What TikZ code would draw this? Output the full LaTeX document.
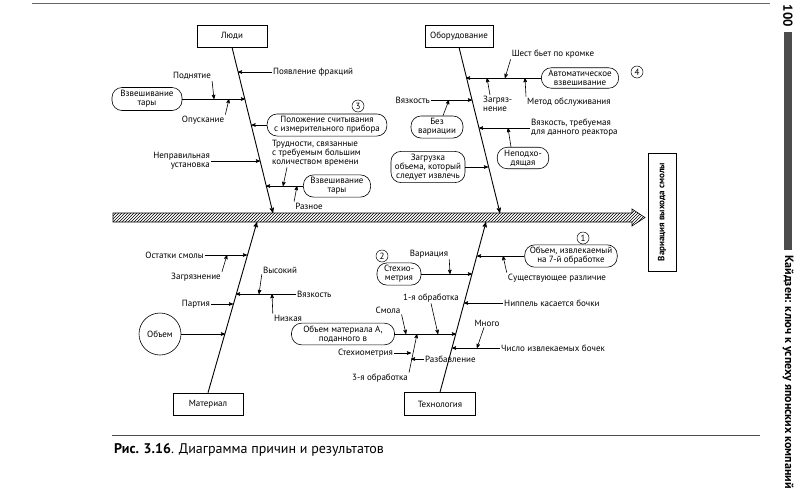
\documentclass[tikz,border=0pt]{standalone}
\usepackage{fontspec}
\setmainfont{PT Sans}
\usetikzlibrary{arrows,calc,patterns,positioning}

\begin{document}
\begin{tikzpicture}[x=1pt,y=-1pt,>=stealth',
every node/.style={font=\fontsize{9}{9}\selectfont,inner sep=1pt},
cat/.style={draw,line width=0.6pt,minimum width=70pt,minimum height=22pt},
pill/.style={draw,rounded corners=10pt,align=center,line width=0.6pt,inner xsep=7pt,inner ysep=2.5pt},
num/.style={draw,circle,inner sep=0.5pt,minimum size=12pt,line width=0.5pt},
bone/.style={line width=0.9pt,->},
twig/.style={line width=0.6pt,->}]
\useasboundingbox (0,0) rectangle (800,488);

% spine and result
\draw[line width=0.6pt,pattern=north east lines] (113,213) -- (632,213) -- (632,209)
    -- (645,217.5) -- (632,226) -- (632,222) -- (113,222) -- cycle;
\node[draw,line width=0.8pt,rotate=90,minimum width=118pt,minimum height=28pt,font=\bfseries\fontsize{9}{9}\selectfont] (res) at (662,212) {Вариация выхода смолы};

% categories
\node[cat] (lyudi) at (232,36) {Люди};
\node[cat,minimum width=68pt] (obor) at (459,36) {Оборудование};
\node[cat] (mat) at (208,404) {Материал};
\node[cat,minimum width=71pt,minimum height=23pt] (tech) at (440,404) {Технология};
\coordinate (lsp) at (273,213);
\coordinate (osp) at (500,213);
\coordinate (msp) at (257,222);
\coordinate (tsp) at (486,222);
\draw[bone] (lyudi.south) -- (lsp);
\draw[bone] (obor.south) -- (osp);
\draw[bone] (mat.north) -- (msp);
\draw[bone] (tech.north) -- (tsp);

% Люди
\node[anchor=west] (fr) at (272,72) {Появление фракций};
\coordinate (l1) at (238,72);
\draw[twig] (fr.west) -- (l1);
\node[pill,minimum width=70pt,minimum height=23pt] (tara1) at (147,99) {Взвешивание\\тары};
\coordinate (l2) at (245,99);
\draw[twig] (tara1.east) -- (l2);
\node (podn) at (192,76) {Поднятие};
\coordinate (l2a) at (214,99);
\draw[twig] (podn.south east) -- (l2a);
\node (opusk) at (203,120) {Опускание};
\coordinate (l2b) at (229,99);
\draw[twig] (opusk.north east) -- (l2b);
\node[pill] (polozh) at (327,125) {Положение считывания\\с измерительного прибора};
\node[num] (n3) at (358,106) {3};
\coordinate (l3) at (251.5,125);
\draw[twig] (polozh.west) -- (l3);
\node[anchor=east,align=right] (neprav) at (211,161) {Неправильная\\установка};
\coordinate (l4) at (260,161);
\draw[twig] (neprav.east) -- (l4);
\node[anchor=north west,align=left] (trud) at (271,139) {Трудности, связанные\\с требуемым большим\\количеством времени};
\node[pill] (tara2) at (337,186) {Взвешивание\\тары};
\coordinate (l5) at (266,186);
\draw[twig] (tara2.west) -- (l5);
\coordinate (l5a) at (283,186);
\draw[twig] ($(trud.south west)+(16,0)$) -- (l5a);
\node (raznoe) at (309,206) {Разное};
\coordinate (l5b) at (297,186);
\draw[twig] (raznoe.north west) -- (l5b);

% Оборудование
\node[pill] (avto) at (580,78) {Автоматическое\\взвешивание};
\node[num] (n4) at (637,72) {4};
\coordinate (o1) at (466,78);
\draw[twig] (avto.west) -- (o1);
\node (shest) at (553,54) {Шест бьет по кромке};
\coordinate (o1a) at (505,78);
\draw[twig] (shest.south west) -- (o1a);
\node[anchor=north west,align=left] (zagr1) at (482,95) {Загряз-\\нение};
\coordinate (o1b) at (487,78);
\draw[twig] ($(zagr1.north west)+(8,0)$) -- (o1b);
\node[anchor=west] (metod) at (526,102) {Метод обслуживания};
\coordinate (o1c) at (525,78);
\draw[twig] (metod.north west) -- (o1c);
\node[anchor=east] (vyaz1) at (431,100) {Вязкость};
\coordinate (o2) at (472,100);
\draw[twig] (vyaz1.east) -- (o2);
\node[pill] (bez) at (437,127) {Без\\вариации};
\coordinate (o2a) at (449,100);
\draw[twig] ($(bez.north)+(6,0)$) -- (o2a);
\node[anchor=west,align=left] (vyaz2) at (530,128) {Вязкость, требуемая\\для данного реактора};
\coordinate (o3) at (479,128);
\draw[twig] (vyaz2.west) -- (o3);
\node[pill] (nepod) at (523,158) {Неподхо-\\дящая};
\coordinate (o3a) at (508,128);
\draw[twig] ($(nepod.north)+(-12,0)$) -- (o3a);
\node[pill,inner xsep=4pt] (zagruz) at (428,167) {Загрузка\\объема, который\\следует извлечь};
\coordinate (o4) at (488,167);
\draw[twig] (zagruz.east) -- (o4);

% Материал
\node[anchor=east] (ost) at (205,255) {Остатки смолы};
\coordinate (m1) at (247,255);
\draw[twig] (ost.east) -- (m1);
\node (zagr2) at (196,277) {Загрязнение};
\coordinate (m1a) at (227,255);
\draw[twig] (zagr2.north east) -- (m1a);
\node[anchor=west] (vyaz3) at (296,294) {Вязкость};
\coordinate (m2) at (236,294);
\draw[twig] (vyaz3.west) -- (m2);
\node (vys) at (280,270) {Высокий};
\coordinate (m2a) at (259,294);
\draw[twig] (vys.south west) -- (m2a);
\node (niz) at (288,318) {Низкая};
\coordinate (m2b) at (272,294);
\draw[twig] (niz.north west) -- (m2b);
\node[anchor=east] (part) at (211,304) {Партия};
\coordinate (m3) at (233,304);
\draw[twig] (part.east) -- (m3);
\node[draw,circle,minimum size=42pt,line width=0.6pt] (obemc) at (160,334) {Объем};
\coordinate (m4) at (225,334);
\draw[twig] (obemc.east) -- (m4);

% Технология
\node[pill,inner xsep=5pt] (obem7) at (571,256) {Объем, извлекаемый\\на 7-й обработке};
\node[num] (n1) at (583,238) {1};
\coordinate (t1) at (477,256);
\draw[twig] (obem7.west) -- (t1);
\node (sush) at (557,278) {Существующее различие};
\coordinate (t1a) at (503,256);
\draw[twig] (sush.north west) -- (t1a);
\node[pill] (steh) at (399,274) {Стехио-\\метрия};
\node[num] (n2) at (382,256) {2};
\coordinate (t2) at (472,274);
\draw[twig] (steh.east) -- (t2);
\node (var) at (429,254) {Вариация};
\coordinate (t2a) at (450,274);
\draw[twig] (var.south east) -- (t2a);
\node[anchor=west] (nipp) at (503,303) {Ниппель касается бочки};
\coordinate (t3) at (464,303);
\draw[twig] (nipp.west) -- (t3);
\node[anchor=west] (chislo) at (500,348) {Число извлекаемых бочек};
\coordinate (t4) at (452,348);
\draw[twig] (chislo.west) -- (t4);
\node (mnogo) at (487,323) {Много};
\coordinate (t4a) at (477,348);
\draw[twig] ($(mnogo.south)+(-3,0)$) -- (t4a);
\node[pill,minimum width=103pt] (obemA) at (343,334) {Объем материала А,\\поданного в};
\coordinate (t5) at (456,334);
\draw[twig] (obemA.east) -- (t5);
\node (smola) at (388,310) {Смола};
\coordinate (t5a) at (406,334);
\draw[twig] (smola.south east) -- (t5a);
\node (obr1) at (431,298) {1-я обработка};
\coordinate (t5b) at (438,334);
\draw[twig] (obr1.south) -- (t5b);
\node (obr3) at (380,378) {3-я обработка};
\coordinate (sb) at (417,334);
\draw[twig] (obr3.north east) -- (sb);
\node[anchor=east] (steh2) at (394,353) {Стехиометрия};
\coordinate (s1) at (411,353);
\draw[twig] (steh2.east) -- (s1);
\node[anchor=west] (razb) at (424,359) {Разбавление};
\coordinate (s2) at (411,359);
\draw[twig] (razb.west) -- (s2);

% page
\draw[black!60,line width=0.7pt] (32,3) -- (770,3);
\draw[black!70,line width=1pt] (112,435) -- (760,435);
\node[anchor=west,font=\fontsize{14}{15}\selectfont] (cap) at (113,450) {\textbf{Рис. 3.16}. Диаграмма причин и результатов};
\node[rotate=-90,font=\bfseries\fontsize{13}{14}\selectfont] (pg) at (788,16) {100};
\fill[black!70] (784,32) rectangle (792,250);
\node[rotate=-90,anchor=west,font=\bfseries\fontsize{12}{13}\selectfont] (hdr) at (788,254) {Кайдзен: ключ к успеху японских компаний};
\end{tikzpicture}
\end{document}
